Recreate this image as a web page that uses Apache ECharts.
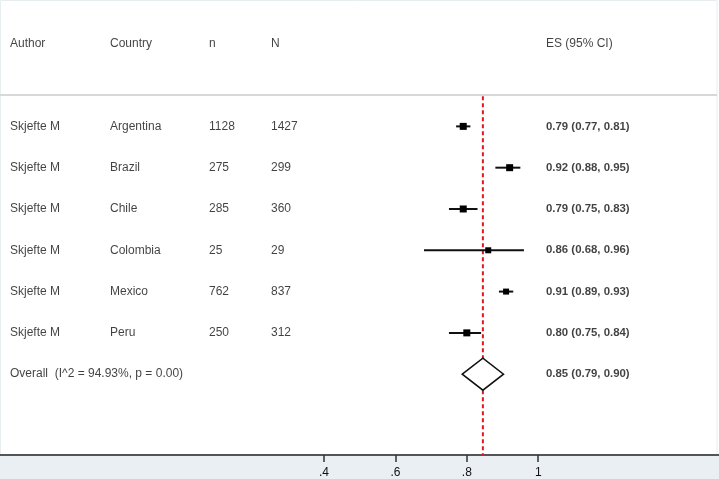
<!DOCTYPE html>
<html>
<head>
<meta charset="utf-8">
<script src="https://cdn.jsdelivr.net/npm/echarts@6/dist/echarts.min.js"></script>
<style>
  html, body { margin: 0; padding: 0; background: #fff; }
  #chart { width: 719px; height: 479px; }
</style>
</head>
<body>
<div id="chart"></div>
<script>
// study data
var authors = ['Skjefte M', 'Skjefte M', 'Skjefte M', 'Skjefte M', 'Skjefte M', 'Skjefte M'];
var countries = ['Argentina', 'Brazil', 'Chile', 'Colombia', 'Mexico', 'Peru'];
var nSmall = [1128, 275, 285, 25, 762, 250];
var nTotal = [1427, 299, 360, 29, 837, 312];
var es = [0.79, 0.92, 0.79, 0.86, 0.91, 0.80];
var lower = [0.77, 0.88, 0.75, 0.68, 0.89, 0.75];
var upper = [0.81, 0.95, 0.83, 0.96, 0.93, 0.84];
var boxSize = [7, 7, 7, 6, 6, 7];
var esLabels = ['0.79 (0.77, 0.81)', '0.92 (0.88, 0.95)', '0.79 (0.75, 0.83)',
                '0.86 (0.68, 0.96)', '0.91 (0.89, 0.93)', '0.80 (0.75, 0.84)'];
var overallEs = 0.845;
var overallLo = 0.79;
var overallHi = 0.90;
var overallText = 'Overall  (I^2 = 94.93%, p = 0.00)';
var overallLabel = '0.85 (0.79, 0.90)';
var headers = ['Author', 'Country', 'n', 'N', 'ES (95% CI)'];
var tickValues = [0.4, 0.6, 0.8, 1];

var colX = [10, 110, 209, 271, 546];   // text columns, in page px
var textFont = 'Liberation Sans, Arial, sans-serif';
var textColor = '#111';

var myChart = echarts.init(document.getElementById('chart'));

// rows: header at -2, studies 0..5, overall 6
var cols = [[], [], [], [], []];
var esCol = [];
headers.forEach(function (h, i) { cols[i].push([colX[i], -2, h]); });
countries.forEach(function (c, i) {
    cols[0].push([colX[0], i, authors[i]]);
    cols[1].push([colX[1], i, c]);
    cols[2].push([colX[2], i, String(nSmall[i])]);
    cols[3].push([colX[3], i, String(nTotal[i])]);
    esCol.push([colX[4], i, esLabels[i]]);
});
cols[0].push([colX[0], 6, overallText]);
esCol.push([colX[4], 6, overallLabel]);

function textSeries(d, size, weight) {
    return {
        type: 'scatter',
        xAxisIndex: 1,
        symbolSize: 0,
        silent: true,
        data: d,
        label: {
            show: true,
            position: 'right',
            distance: 0,
            color: textColor,
            fontFamily: textFont,
            fontSize: size,
            fontWeight: weight,
            formatter: function (p) { return p.data[2]; }
        }
    };
}

var texts = cols.map(function (d) { return textSeries(d, 12, 'normal'); });
texts.push(textSeries(esCol, 11.4, 'bold'));

var ciData = es.map(function (v, i) { return [i, v, lower[i], upper[i], boxSize[i]]; });

var option = {
    animation: false,
    backgroundColor: '#fff',
    grid: { left: 0, right: 0, top: 0, bottom: 24 },
    xAxis: [
        {
            type: 'value',
            min: -0.5076,
            max: 1.5064,
            splitLine: { show: false },
            axisLine: { onZero: false, lineStyle: { color: '#555', width: 2 } },
            axisTick: {
                show: true,
                customValues: tickValues,
                length: 7,
                lineStyle: { color: '#333', width: 1.5 }
            },
            axisLabel: {
                customValues: tickValues,
                margin: 12,
                color: '#111',
                fontFamily: textFont,
                fontSize: 12,
                formatter: function (v) { return v >= 1 ? String(v) : String(v).replace(/^0/, ''); }
            }
        },
        {
            type: 'value',
            min: 0,
            max: 719,
            show: false
        }
    ],
    yAxis: {
        type: 'value',
        inverse: true,
        min: -3.06,
        max: 7.957,
        show: false
    },
    graphic: [
        {
            type: 'rect',
            z: -10,
            shape: { x: 0, y: 456, width: 719, height: 23 },
            style: { fill: '#e9eff2' }
        },
        {
            type: 'rect',
            z: -10,
            shape: { x: 0.5, y: 0.5, width: 716.5, height: 455 },
            style: { fill: 'none', stroke: '#e8eef0', lineWidth: 1 }
        },
        {
            type: 'line',
            z: -5,
            shape: { x1: 0, y1: 95, x2: 717, y2: 95 },
            style: { stroke: '#d8d8d8', lineWidth: 2 }
        }
    ],
    series: [
        {
            name: 'overall line',
            type: 'line',
            silent: true,
            symbol: 'none',
            data: [[overallEs, -0.73], [overallEs, 7.957]],
            lineStyle: { color: '#e8141b', width: 2, type: [4, 3] },
            z: 1
        },
        {
            name: 'studies',
            type: 'custom',
            silent: true,
            data: ciData,
            renderItem: function (params, api) {
                var row = api.value(0);
                var c = api.coord([api.value(1), row]);
                var l = api.coord([api.value(2), row]);
                var h = api.coord([api.value(3), row]);
                var s = api.value(4);
                return {
                    type: 'group',
                    children: [
                        {
                            type: 'line',
                            shape: { x1: l[0], y1: c[1], x2: h[0], y2: c[1] },
                            style: { stroke: '#111', lineWidth: 2 }
                        },
                        {
                            type: 'rect',
                            shape: { x: c[0] - s / 2, y: c[1] - s / 2, width: s, height: s },
                            style: { fill: '#000' }
                        }
                    ]
                };
            },
            z: 3
        },
        {
            name: 'overall',
            type: 'custom',
            silent: true,
            data: [[6, overallEs, overallLo, overallHi]],
            renderItem: function (params, api) {
                var row = api.value(0);
                var c = api.coord([api.value(1), row]);
                var l = api.coord([api.value(2), row]);
                var h = api.coord([api.value(3), row]);
                var half = 16;
                return {
                    type: 'polygon',
                    shape: { points: [[l[0] - 1, c[1]], [c[0], c[1] - half], [h[0] + 1, c[1]], [c[0], c[1] + half]] },
                    style: { fill: '#fff', stroke: '#111', lineWidth: 1.5 }
                };
            },
            z: 3
        }
    ].concat(texts)
};

myChart.setOption(option, true);
window.addEventListener('resize', function () { myChart.resize(); });
</script>
</body>
</html>
